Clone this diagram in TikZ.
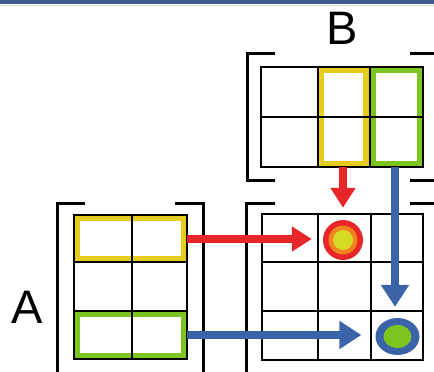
\documentclass[tikz,border=0pt]{standalone}
\usepackage{fontspec}
\setmainfont{Liberation Sans}
\usetikzlibrary{arrows.meta,shapes.geometric}
\definecolor{barblue}{HTML}{3B5B8E}
\definecolor{ared}{HTML}{E8262A}
\definecolor{ablue}{HTML}{3A63A8}
\definecolor{byellow}{HTML}{E6CC1E}
\definecolor{bgreen}{HTML}{7CC520}
\definecolor{corange}{HTML}{F0841E}
\definecolor{cyellow}{HTML}{D6DA22}
\begin{document}
\begin{tikzpicture}[x=1pt,y=-1pt,
  gridline/.style={line width=2pt,black},
  bracket/.style={line width=3pt,black},
  yband/.style={draw=byellow,line width=6pt},
  gband/.style={draw=bgreen,line width=6pt},
  redarrow/.style={draw=ared,line width=8pt,-{Triangle[length=20pt,width=24pt]}},
  bluearrow/.style={draw=ablue,line width=8pt,-{Triangle[length=22pt,width=27pt]}},
  lbl/.style={font=\fontsize{47}{47}\selectfont,inner sep=0pt}]
\useasboundingbox (0,0) rectangle (434,372);
\fill[white] (0,0) rectangle (434,372);
\fill[barblue] (0,0) rectangle (434,4);
\draw[gray!30,line width=1pt] (0,5) -- (434,5);

% labels
\node[lbl] (labB) at (342.5,28.5) {B};
\node[lbl] (labA) at (27.5,307.5) {A};

% ---- matrix B ----
\draw[bracket] (275,53) -- (247,53) -- (247,180) -- (275,180);
\draw[bracket] (410,53) -- (437,53) -- (437,180) -- (410,180);
\draw[yband] (321,70) rectangle (366,164);
\draw[gband] (373,70) rectangle (420,164);
\draw[gridline] (261,67) rectangle (423,167);
\draw[gridline] (261,117) -- (423,117);
\draw[gridline] (318,67) -- (318,167);
\draw[gridline] (370,67) -- (370,167);
\node[inner sep=0pt,minimum width=50pt,minimum height=100pt] (byel) at (343,117) {};
\node[inner sep=0pt,minimum width=53pt,minimum height=100pt] (bgrn) at (395,117) {};

% ---- matrix A ----
\draw[bracket] (85,203) -- (57,203) -- (57,380);
\draw[bracket] (175,203) -- (203,203) -- (203,380);
\draw[yband] (77,218) rectangle (184,259);
\draw[gband] (77,314) rectangle (184,356);
\draw[gridline] (74,215) rectangle (187,359);
\draw[gridline] (74,262) -- (187,262);
\draw[gridline] (74,311) -- (187,311);
\draw[gridline] (132,215) -- (132,359);
\node[inner sep=0pt,minimum width=113pt,minimum height=47pt] (ayel) at (130.5,239) {};
\node[inner sep=0pt,minimum width=113pt,minimum height=48pt] (agrn) at (130.5,335) {};

% ---- matrix C ----
\draw[bracket] (275,203) -- (246,203) -- (246,380);
\draw[bracket] (410,203) -- (437,203) -- (437,380);
\draw[gridline] (262,214) rectangle (423,360);
\draw[gridline] (262,262) -- (423,262);
\draw[gridline] (262,311) -- (423,311);
\draw[gridline] (318,214) -- (318,360);
\draw[gridline] (371,214) -- (371,360);

% result circles
\fill[ared] (343,240) circle (20);
\fill[corange] (343,240) circle (14.5);
\fill[cyellow] (343,240) circle (10);
\node[circle,inner sep=0pt,minimum size=40pt] (rc) at (343,240) {};
\fill[ablue] (397.5,336.5) ellipse (22 and 18.5);
\fill[bgreen] (397.5,336.5) ellipse (14 and 11.5);
\node[ellipse,inner sep=0pt,minimum width=44pt,minimum height=37pt] (bc) at (397.5,336.5) {};

% arrows
\draw[redarrow,shorten >=11pt] (ayel.east) -- (ayel.east -| rc.west);
\draw[redarrow,shorten >=12pt] (byel.south) -- (rc.north);
\draw[bluearrow,shorten >=11pt] (bgrn.south) -- (bgrn.south |- bc.north);
\draw[bluearrow,shorten >=14pt] (agrn.east) -- (agrn.east -| bc.west);
\end{tikzpicture}
\end{document}
